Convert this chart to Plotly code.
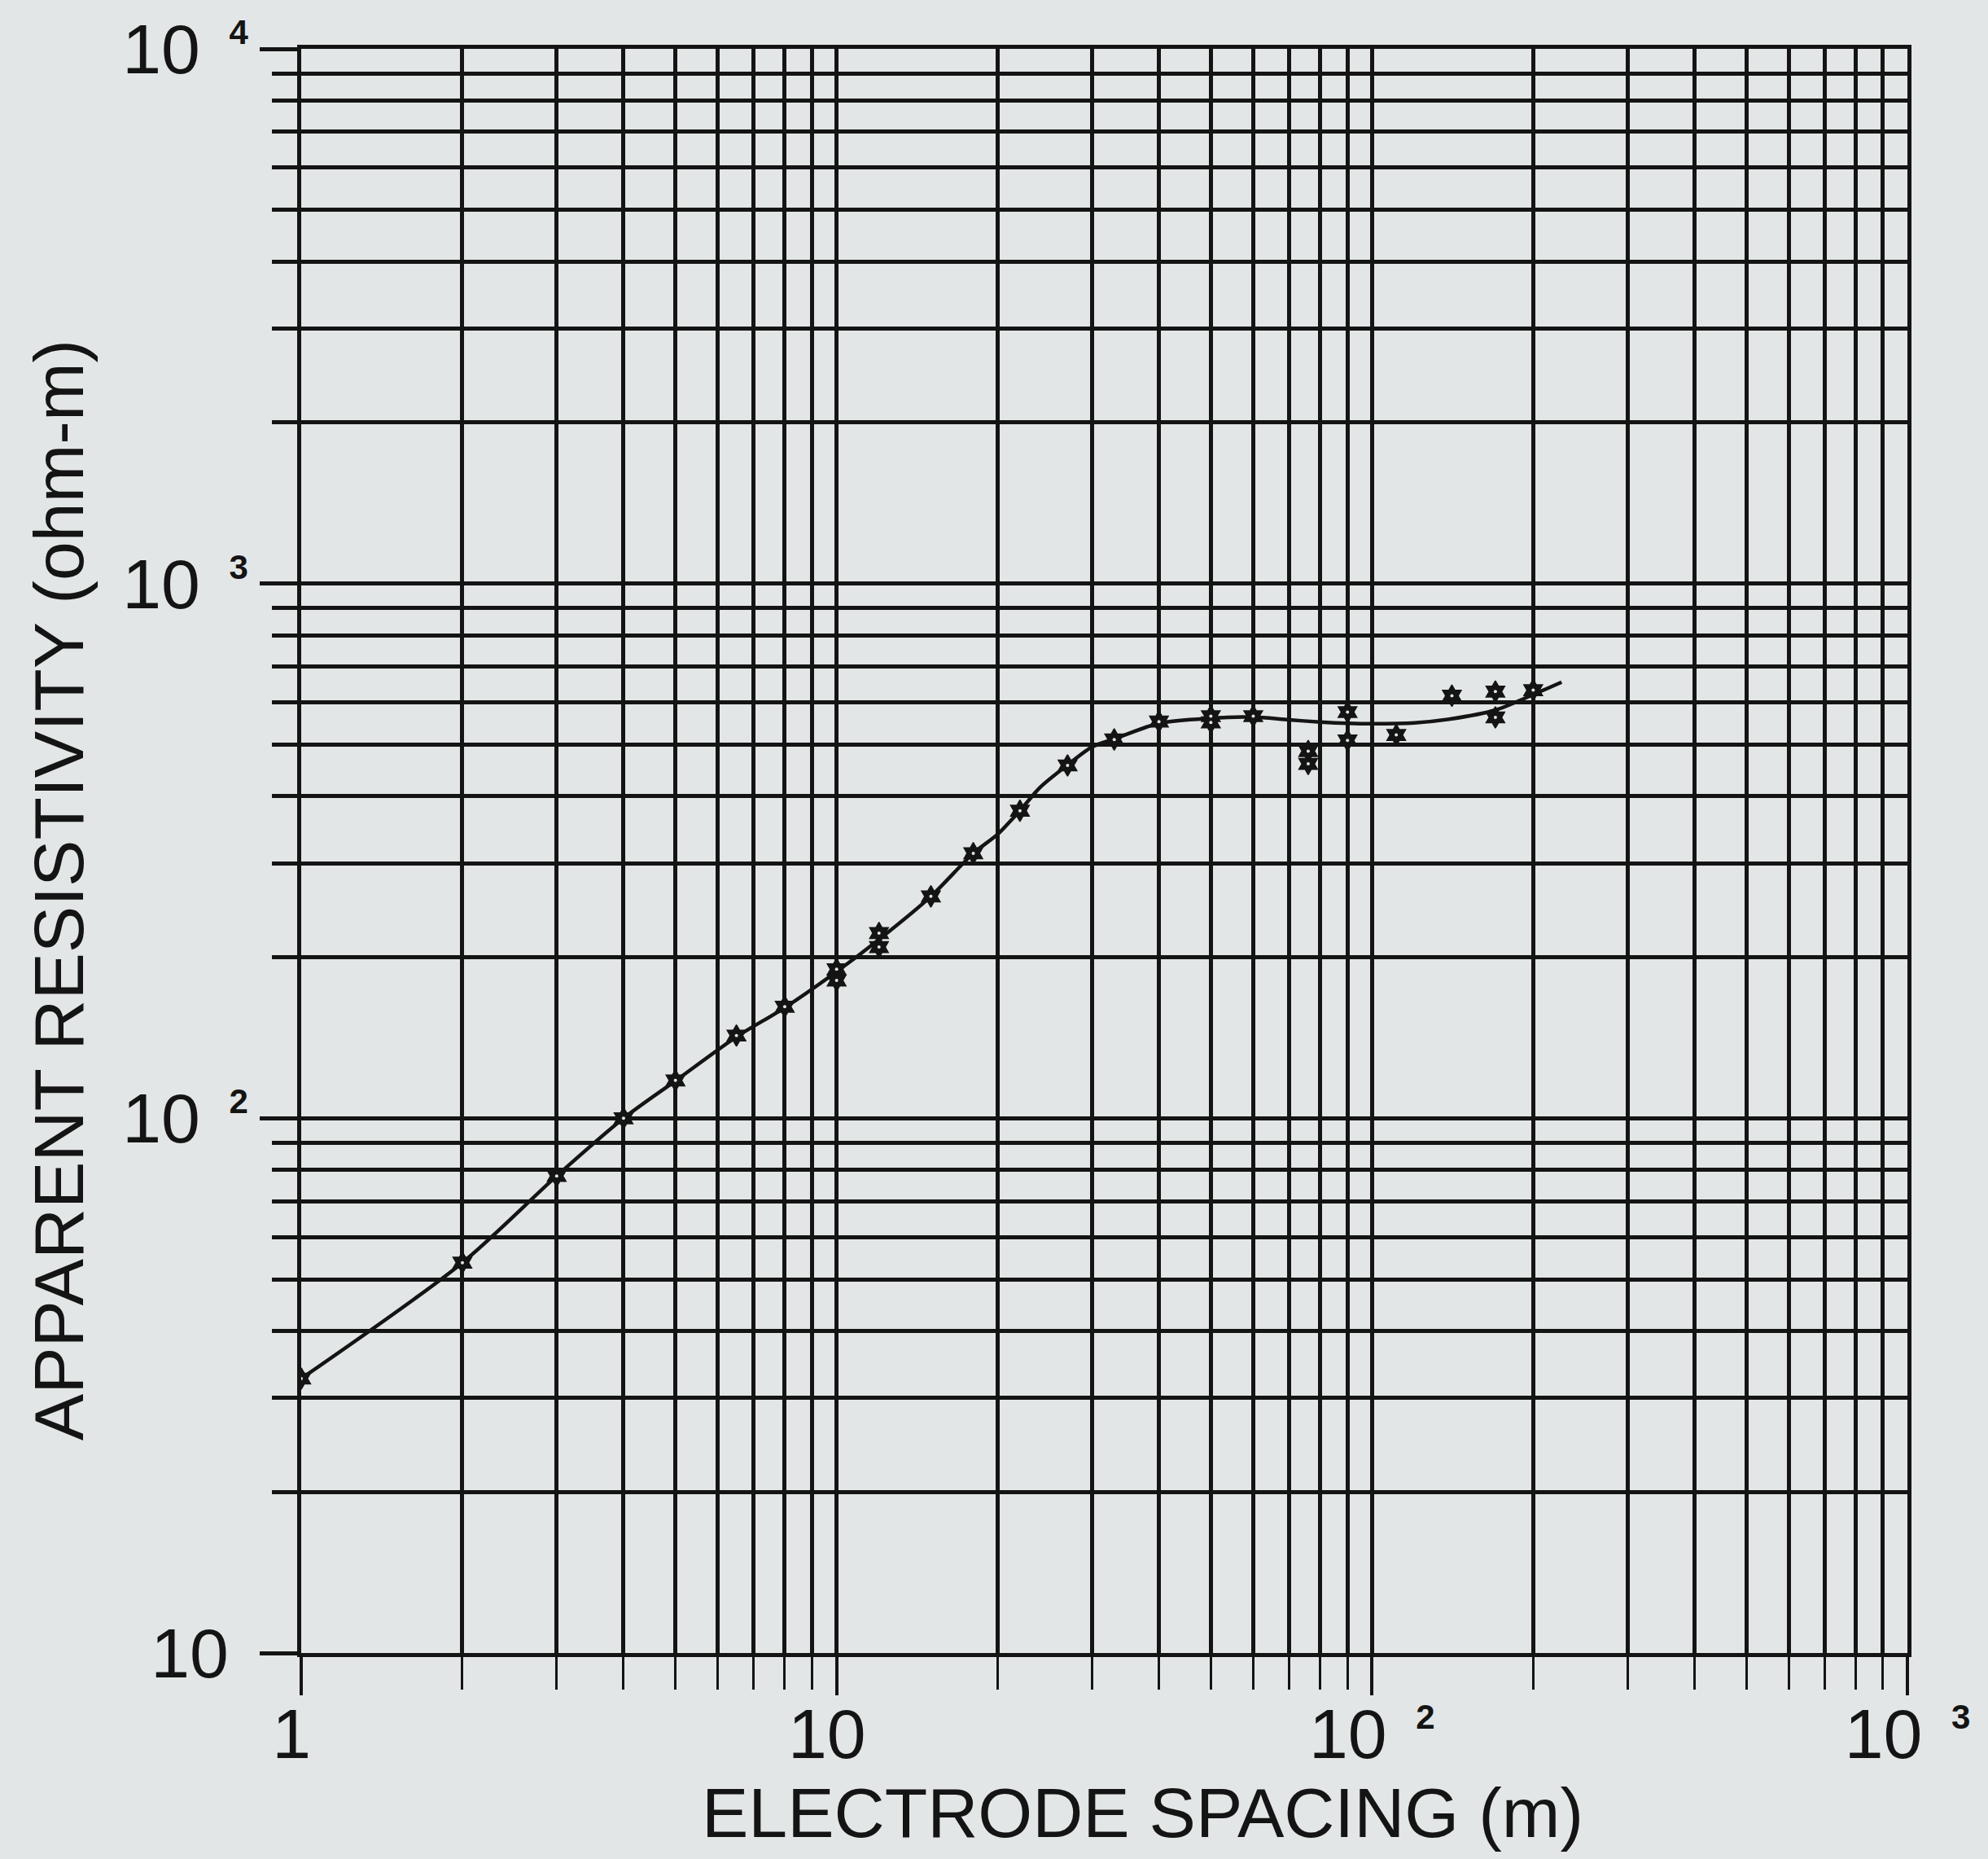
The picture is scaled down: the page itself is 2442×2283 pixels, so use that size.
import plotly.graph_objects as go

# Sounding curve: apparent resistivity vs electrode spacing
curve_spacing = [1, 2, 3, 4, 5, 6.5, 8, 10, 12, 15, 18, 20, 22, 24, 27, 30, 33,
                 40, 50, 60, 70, 80, 90, 100, 120, 140, 170, 200, 226]
curve_rho = [32.6, 53.7, 78, 100, 117.5, 142, 161, 188, 216, 260, 313, 340, 376,
             416, 458, 495, 512, 548, 560, 563, 556, 551, 548, 547, 549, 558,
             580, 620, 654]

# Field measurements
obs_spacing = [1, 2, 3, 4, 5, 6.5, 8, 10, 10, 12, 12, 15, 18, 22, 27, 33, 40,
               50, 50, 60, 76, 76, 90, 90, 111, 141, 170, 170, 200]
obs_rho = [32.6, 53.7, 78, 100, 117.7, 142.8, 161.7, 190, 181, 222, 209, 260,
           313, 376, 457, 511, 552, 565, 550, 565, 486, 460, 575, 509, 521, 617,
           628, 562, 632]

NB = "\u00a0"
x_tickvals = [1, 10, 100, 1000]
x_ticktext = ["1" + NB, "10" + NB, "10 <sup>" + NB + "2</sup>", "10 <sup>" + NB + "3</sup>"]
y_tickvals = [10, 100, 1000, 10000]
y_ticktext = ["10" + NB, "10 <sup>" + NB + "2</sup>", "10 <sup>" + NB + "3</sup>",
              "10 <sup>" + NB + "4</sup>"]


def sup_small(text):
    return text.replace("<sup>", '<sup><span style="font-size:42px;font-weight:bold">').replace(
        "</sup>", "</span></sup>")


INK = "#141414"
BG = "#e3e6e6"
FONT = "Liberation Sans, Arial, sans-serif"

minor_x = [d * 10 ** e for e in range(0, 3) for d in range(2, 10)]
minor_y = [d * 10 ** e for e in range(1, 4) for d in range(2, 10)]

fig = go.Figure()
fig.add_trace(go.Scatter(
    x=curve_spacing, y=curve_rho, mode="lines",
    line=dict(color=INK, width=4.5, shape="spline", smoothing=0.8),
    hoverinfo="skip", showlegend=False,
))
# six-pointed star markers with a small pale centre
fig.add_trace(go.Scatter(
    x=obs_spacing, y=obs_rho, mode="markers",
    marker=dict(symbol="hexagram", size=20, color=INK,
                line=dict(color=INK, width=1.5)),
    showlegend=False,
))
fig.add_trace(go.Scatter(
    x=obs_spacing, y=obs_rho, mode="markers",
    marker=dict(symbol="circle", size=4, color=BG, line=dict(width=0)),
    hoverinfo="skip", showlegend=False,
))

fig.update_xaxes(
    type="log", range=[0, 3],
    tickmode="array", tickvals=x_tickvals,
    ticktext=[sup_small(t) for t in x_ticktext],
    ticks="outside", ticklen=47, tickwidth=3.5, tickcolor=INK,
    ticklabelstandoff=-26,
    tickfont=dict(family=FONT, size=86, color=INK),
    showgrid=True, gridcolor=INK, gridwidth=5,
    minor=dict(tickmode="array", tickvals=minor_x, ticks="outside", ticklen=40,
               tickwidth=3, tickcolor=INK, showgrid=True, gridcolor=INK,
               gridwidth=5),
    showline=True, mirror=True, linecolor=INK, linewidth=5,
    zeroline=False,
)
fig.update_yaxes(
    type="log", range=[1, 4],
    tickmode="array", tickvals=y_tickvals,
    ticktext=[sup_small(t) for t in y_ticktext],
    ticks="outside", ticklen=46, tickwidth=4.5, tickcolor=INK,
    ticklabelstandoff=-3,
    tickfont=dict(family=FONT, size=86, color=INK),
    showgrid=True, gridcolor=INK, gridwidth=5,
    minor=dict(tickmode="array", tickvals=minor_y, ticks="outside", ticklen=31,
               tickwidth=4.5, tickcolor=INK, showgrid=True, gridcolor=INK,
               gridwidth=5),
    showline=True, mirror=True, linecolor=INK, linewidth=5,
    zeroline=False,
)

fig.add_annotation(
    text="ELECTRODE SPACING (m)", xref="paper", yref="paper",
    x=0.5236, y=-0.0995, xanchor="center", yanchor="middle", showarrow=False,
    font=dict(family=FONT, size=86, color=INK),
)
fig.add_annotation(
    text="APPARENT RESISTIVITY (ohm-m)", xref="paper", yref="paper",
    x=-0.151, y=0.4756, xanchor="center", yanchor="middle", showarrow=False,
    textangle=-90, font=dict(family=FONT, size=86, color=INK),
)

fig.update_layout(
    width=2442, height=2283, autosize=False,
    margin=dict(l=370, r=99, t=60, b=253, pad=0),
    paper_bgcolor=BG, plot_bgcolor=BG,
    font=dict(family=FONT, color=INK),
)

fig.write_html("out.html")
